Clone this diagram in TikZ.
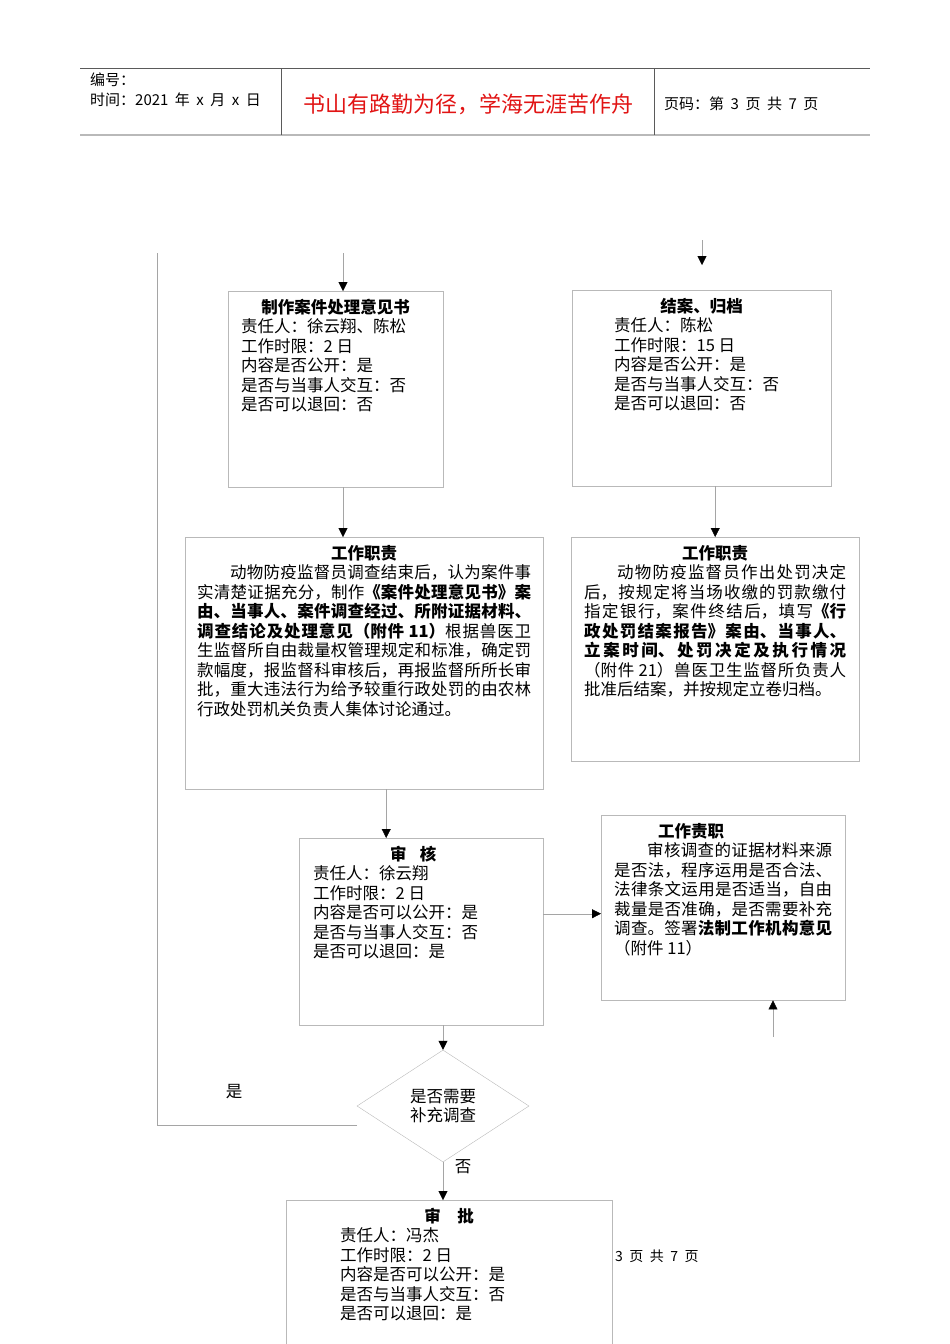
\documentclass[tikz,border=0pt]{standalone}
\usepackage{fontspec}
\setmainfont{Noto Sans CJK SC}
\usetikzlibrary{shapes.geometric, arrows.meta, positioning}
\XeTeXlinebreaklocale "zh"
\XeTeXlinebreakskip=0pt plus 3pt
\definecolor{boxgray}{RGB}{185,185,185}
\definecolor{linegray}{RGB}{165,165,165}
\definecolor{headgray}{RGB}{90,90,90}
\definecolor{mottored}{RGB}{225,20,20}
\newcommand{\bodyfont}{\fontsize{16.5}{19.5}\selectfont}
\newcommand{\ttl}[1]{\makebox[\linewidth]{\textbf{#1}}\\}
\newcommand{\gap}{\hspace{6.5pt}}
\tikzstyle{block} = [draw=boxgray, rectangle, anchor=north west, align=justify, inner ysep=8pt, text height=14pt, font=\bodyfont]
\tikzstyle{decision} = [draw=boxgray, diamond, inner sep=0pt, minimum width=172pt, minimum height=112pt, align=center, font=\bodyfont]
\tikzstyle{line} = [draw=linegray]
\tikzstyle{head} = [anchor=base west, inner sep=0pt, font=\fontsize{15}{18}\selectfont]

\begin{document}
\begin{tikzpicture}[x=1pt, y=-1pt, >={Triangle[length=9pt,width=9pt,color=black]}]
    \useasboundingbox (0,0) rectangle (950,1344);
    \draw [headgray] (80,68) -- (870,68);
    \draw [boxgray, line width=1.6pt] (80,135) -- (870,135);
    \draw [headgray] (281,68) -- (281,135);
    \draw [headgray] (654,68) -- (654,135);
    \node [head] (code) at (90,85) {编号：};
    \node [head] (date) at (90,105) {时间：2021\gap 年\gap x\gap 月\gap x\gap 日};
    \node [font=\fontsize{22}{26}\selectfont, text=mottored] (motto) at (468,104) {书山有路勤为径，学海无涯苦作舟};
    \node [head] (page) at (664,109) {页码：第\gap 3\gap 页\gap 共\gap 7\gap 页};

    \node [block, text width=189pt, inner xsep=13pt, text depth=166pt] (make) at (228,291) {\ttl{制作案件处理意见书}责任人：徐云翔、陈松\\工作时限：2 日\\内容是否公开：是\\是否与当事人交互：否\\是否可以退回：否};
    \node [block, text width=175pt, inner xsep=42pt, text depth=166pt] (archive) at (572,290) {\ttl{结案、归档}责任人：陈松\\工作时限：15 日\\内容是否公开：是\\是否与当事人交互：否\\是否可以退回：否};
    \node [block, text width=334pt, inner xsep=12pt, text depth=222pt] (duty1) at (185,537) {\ttl{工作职责}\hspace*{2em}动物防疫监督员调查结束后，认为案件事\linebreak
        实清楚证据充分，制作\textbf{《案件处理意见书》案}\linebreak
        \textbf{由、当事人、案件调查经过、所附证据材料、}\linebreak
        \textbf{调查结论及处理意见（附件 11）}根据兽医卫\linebreak
        生监督所自由裁量权管理规定和标准，确定罚\linebreak
        款幅度，报监督科审核后，再报监督所所长审\linebreak
        批，重大违法行为给予较重行政处罚的由农林\linebreak
        行政处罚机关负责人集体讨论通过。};
    \node [block, text width=262pt, inner xsep=13pt, text depth=194pt] (duty2) at (571,537) {\ttl{工作职责}\hspace*{2em}动物防疫监督员作出处罚决定\linebreak
        后，按规定将当场收缴的罚款缴付\linebreak
        指定银行，案件终结后，填写\textbf{《行}\linebreak
        \textbf{政处罚结案报告》案由、当事人、}\linebreak
        \textbf{立案时间、处罚决定及执行情况}\linebreak
        （附件 21）兽医卫生监督所负责人\linebreak
        批准后结案，并按规定立卷归档。};
    \node [block, text width=216pt, inner xsep=14pt, text depth=157pt] (review) at (299,838) {\hspace*{77pt}\textbf{审\hspace{0.8em}核}\\责任人：徐云翔\\工作时限：2 日\\内容是否可以公开：是\\是否与当事人交互：否\\是否可以退回：是};
    \node [block, text width=218pt, inner xsep=13pt, text depth=155pt] (duty3) at (601,815) {\hspace*{44pt}\textbf{工作责职}\\\hspace*{2em}审核调查的证据材料来源\linebreak
        是否法，程序运用是否合法、\linebreak
        法律条文运用是否适当，自由\linebreak
        裁量是否准确，是否需要补充\linebreak
        调查。签署\textbf{法制工作机构意见}\linebreak
        （附件 11）};
    \node [decision] (dec) at (443,1106) {是否需要\\补充调查};
    \node [block, text width=218pt, inner xsep=54pt, text depth=140pt] (approve) at (286,1200) {\ttl{审\quad 批}责任人：冯杰\\工作时限：2 日\\内容是否可以公开：是\\是否与当事人交互：否\\是否可以退回：是};
    \node [font=\bodyfont] (yes) at (234,1092) {是};
    \node [font=\bodyfont] (no) at (463,1167) {否};
    \node [head, font=\fontsize{14}{16}\selectfont] (folio) at (615,1261) {3\gap 页\gap 共\gap 7\gap 页};

    \coordinate (topin) at (343,253);
    \coordinate (looptop) at (157,253);
    \coordinate (loopend) at (357,1125);
    \coordinate (arcin) at (702,240);
    \coordinate (arcend) at (702,265);
    \coordinate (dutyin) at (773,1037);
    \coordinate (d1out) at ([xshift=22pt]duty1.south);
    \coordinate (revout) at ([yshift=18pt]review.east);

    \draw [line,->] (topin) -- (make.north -| topin);
    \draw [line,->] (arcin) -- (arcend);
    \draw [line,->] (make.south -| topin) -- (duty1.north -| topin);
    \draw [line,->] (archive.south -| duty2.north) -- (duty2.north);
    \draw [line,->] (d1out) -- (review.north -| d1out);
    \draw [line,->] (revout) -- (revout -| duty3.west);
    \draw [line,->] (dutyin) -- (dutyin |- duty3.south);
    \draw [line,->] (review.south -| dec.north) -- (dec.north);
    \draw [line,->] (dec.south) -- (dec.south |- approve.north);
    \draw [line] (loopend) -| (looptop);
\end{tikzpicture}
\end{document}
